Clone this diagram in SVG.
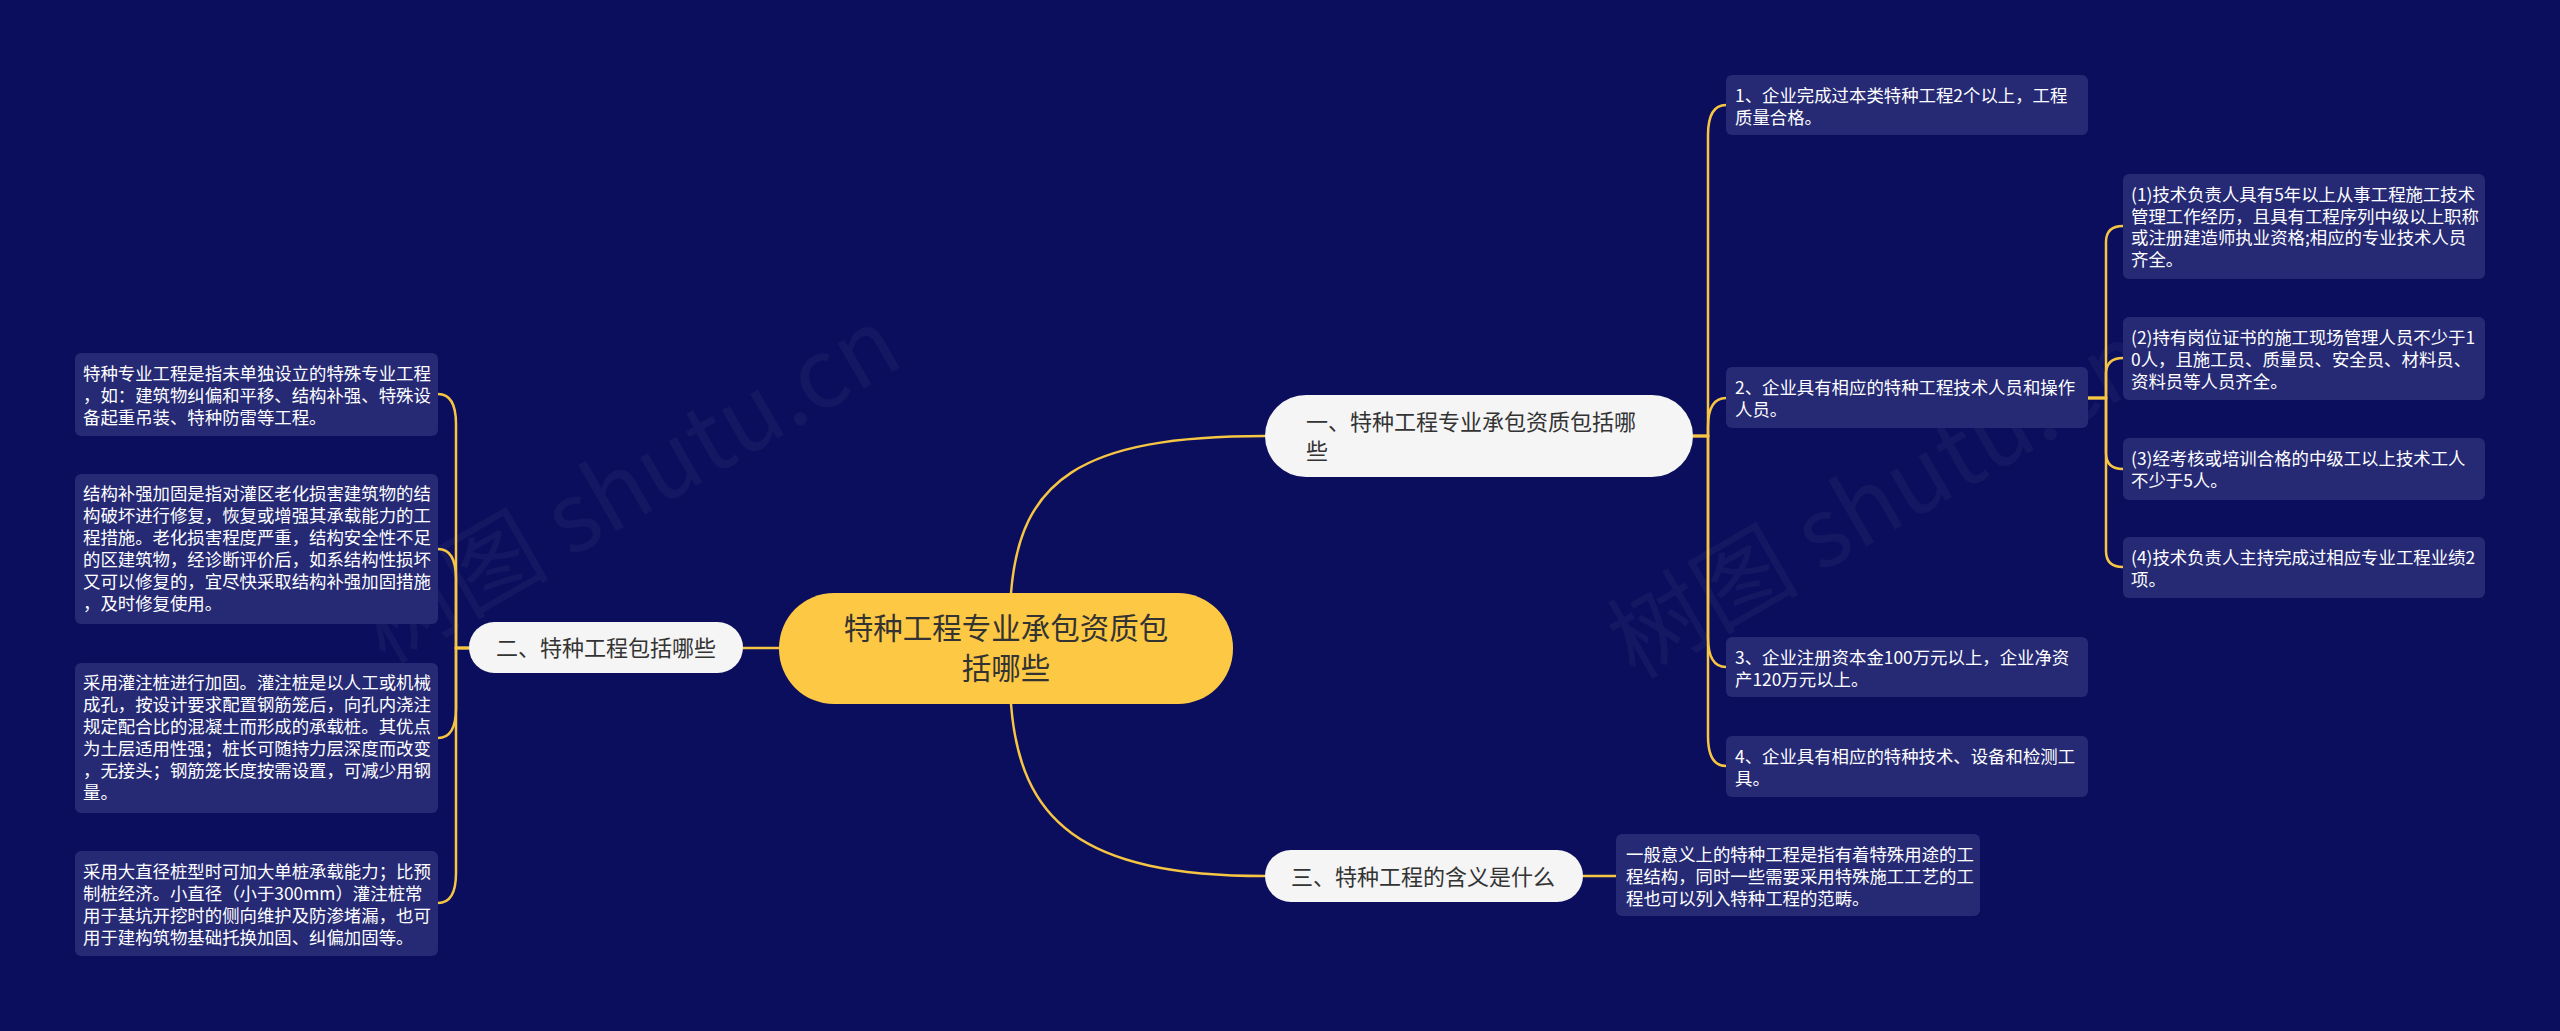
<svg xmlns="http://www.w3.org/2000/svg" width="2560" height="1031" viewBox="0 0 2560 1031">
<style>
.bg{fill:#0b0e5c}
.box{fill:#262a75}
.bt{font-family:"Noto Sans CJK SC","Noto Sans",sans-serif;font-size:17.4px;fill:#ffffff}
.sub{fill:#f5f5f5}
.st{font-family:"Noto Sans CJK SC","Noto Sans",sans-serif;font-size:22px;fill:#333333}
.ct{font-family:"Noto Sans CJK SC","Noto Sans",sans-serif;font-size:29.5px;fill:#333333}
.ln{fill:none;stroke:#f6c544;stroke-width:2.5;stroke-linecap:round}
.wm{font-family:"Noto Sans CJK SC","Noto Sans",sans-serif;font-size:96px;fill:#ffffff;fill-opacity:0.04}
</style>
<rect class="bg" x="0" y="0" width="2560" height="1031"/>
<g id="watermarks">
<text class="wm" x="385" y="665" transform="rotate(-30 385 665)">树图 shutu.cn</text>
<text class="wm" x="1635" y="680" transform="rotate(-30 1635 680)">树图 shutu.cn</text>
</g>
<g id="connectors">
<path class="ln" d="M779,648 H743"/>
<path class="ln" d="M1011,593 C1020,480 1080,436 1265,436"/>
<path class="ln" d="M1011,704 C1020,820 1080,876 1265,876"/>
<path class="ln" d="M1582,876 H1616"/>
<path class="ln" d="M1693,436 H1708 V135 Q1708,105 1726,105"/>
<path class="ln" d="M1693,436 H1708 V427 Q1708,398 1726,398"/>
<path class="ln" d="M1693,436 H1708 V637 Q1708,667 1726,667"/>
<path class="ln" d="M1693,436 H1708 V736 Q1708,766 1726,766"/>
<path class="ln" d="M2088,398 H2106 V242 Q2106,226 2123,226"/>
<path class="ln" d="M2088,398 H2106 V374 Q2106,358 2123,358"/>
<path class="ln" d="M2088,398 H2106 V453 Q2106,469 2123,469"/>
<path class="ln" d="M2088,398 H2106 V551 Q2106,567 2123,567"/>
<path class="ln" d="M469,648 H456 V424 Q456,394 438,394"/>
<path class="ln" d="M469,648 H456 V579 Q456,549 438,549"/>
<path class="ln" d="M469,648 H456 V708 Q456,738 438,738"/>
<path class="ln" d="M469,648 H456 V873 Q456,903 438,903"/>
</g>
<g id="root">
<rect x="779" y="593" width="454" height="111" rx="55" fill="#fdc843"/>
<text class="ct" text-anchor="middle"><tspan x="1006" y="639">特种工程专业承包资质包</tspan><tspan x="1006" y="679">括哪些</tspan></text>
</g>
<g id="n1">
<rect class="sub" x="1265" y="395" width="428" height="82" rx="41"/>
<text class="st"><tspan x="1306" y="430">一、特种工程专业承包资质包括哪</tspan><tspan x="1306" y="459">些</tspan></text>
</g>
<g id="n2">
<rect class="sub" x="469" y="622" width="274" height="51" rx="25.5"/>
<text class="st" x="606" y="656" text-anchor="middle">二、特种工程包括哪些</text>
</g>
<g id="n3">
<rect class="sub" x="1265" y="850" width="318" height="52" rx="26"/>
<text class="st" x="1291" y="885">三、特种工程的含义是什么</text>
</g>
<g id="n1-1">
<rect class="box" x="1726" y="75" width="362" height="60" rx="6"/>
<text class="bt"><tspan x="1735" y="102">1、企业完成过本类特种工程2个以上，工程</tspan><tspan x="1735" y="124">质量合格。</tspan></text>
</g>
<g id="n1-2">
<rect class="box" x="1726" y="367" width="362" height="61" rx="6"/>
<text class="bt"><tspan x="1735" y="394">2、企业具有相应的特种工程技术人员和操作</tspan><tspan x="1735" y="416">人员。</tspan></text>
</g>
<g id="n1-3">
<rect class="box" x="1726" y="637" width="362" height="60" rx="6"/>
<text class="bt"><tspan x="1735" y="664">3、企业注册资本金100万元以上，企业净资</tspan><tspan x="1735" y="686">产120万元以上。</tspan></text>
</g>
<g id="n1-4">
<rect class="box" x="1726" y="736" width="362" height="61" rx="6"/>
<text class="bt"><tspan x="1735" y="763">4、企业具有相应的特种技术、设备和检测工</tspan><tspan x="1735" y="785">具。</tspan></text>
</g>
<g id="n1-2-1">
<rect class="box" x="2123" y="174" width="362" height="105" rx="6"/>
<text class="bt"><tspan x="2131" y="201">(1)技术负责人具有5年以上从事工程施工技术</tspan><tspan x="2131" y="223">管理工作经历，且具有工程序列中级以上职称</tspan><tspan x="2131" y="244">或注册建造师执业资格;相应的专业技术人员</tspan><tspan x="2131" y="266">齐全。</tspan></text>
</g>
<g id="n1-2-2">
<rect class="box" x="2123" y="317" width="362" height="83" rx="6"/>
<text class="bt"><tspan x="2131" y="344">(2)持有岗位证书的施工现场管理人员不少于1</tspan><tspan x="2131" y="366">0人，且施工员、质量员、安全员、材料员、</tspan><tspan x="2131" y="388">资料员等人员齐全。</tspan></text>
</g>
<g id="n1-2-3">
<rect class="box" x="2123" y="438" width="362" height="62" rx="6"/>
<text class="bt"><tspan x="2131" y="465">(3)经考核或培训合格的中级工以上技术工人</tspan><tspan x="2131" y="487">不少于5人。</tspan></text>
</g>
<g id="n1-2-4">
<rect class="box" x="2123" y="537" width="362" height="61" rx="6"/>
<text class="bt"><tspan x="2131" y="564">(4)技术负责人主持完成过相应专业工程业绩2</tspan><tspan x="2131" y="586">项。</tspan></text>
</g>
<g id="n2-1">
<rect class="box" x="75" y="353" width="363" height="83" rx="6"/>
<text class="bt"><tspan x="83" y="380">特种专业工程是指未单独设立的特殊专业工程</tspan><tspan x="83" y="402">，如：建筑物纠偏和平移、结构补强、特殊设</tspan><tspan x="83" y="424">备起重吊装、特种防雷等工程。</tspan></text>
</g>
<g id="n2-2">
<rect class="box" x="75" y="474" width="363" height="150" rx="6"/>
<text class="bt"><tspan x="83" y="500">结构补强加固是指对灌区老化损害建筑物的结</tspan><tspan x="83" y="522">构破坏进行修复，恢复或增强其承载能力的工</tspan><tspan x="83" y="544">程措施。老化损害程度严重，结构安全性不足</tspan><tspan x="83" y="566">的区建筑物，经诊断评价后，如系结构性损坏</tspan><tspan x="83" y="588">又可以修复的，宜尽快采取结构补强加固措施</tspan><tspan x="83" y="610">，及时修复使用。</tspan></text>
</g>
<g id="n2-3">
<rect class="box" x="75" y="663" width="363" height="150" rx="6"/>
<text class="bt"><tspan x="83" y="689">采用灌注桩进行加固。灌注桩是以人工或机械</tspan><tspan x="83" y="711">成孔，按设计要求配置钢筋笼后，向孔内浇注</tspan><tspan x="83" y="733">规定配合比的混凝土而形成的承载桩。其优点</tspan><tspan x="83" y="755">为土层适用性强；桩长可随持力层深度而改变</tspan><tspan x="83" y="777">，无接头；钢筋笼长度按需设置，可减少用钢</tspan><tspan x="83" y="799">量。</tspan></text>
</g>
<g id="n2-4">
<rect class="box" x="75" y="851" width="363" height="105" rx="6"/>
<text class="bt"><tspan x="83" y="878">采用大直径桩型时可加大单桩承载能力；比预</tspan><tspan x="83" y="900">制桩经济。小直径（小于300mm）灌注桩常</tspan><tspan x="83" y="922">用于基坑开挖时的侧向维护及防渗堵漏，也可</tspan><tspan x="83" y="944">用于建构筑物基础托换加固、纠偏加固等。</tspan></text>
</g>
<g id="n3-1">
<rect class="box" x="1616" y="834" width="364" height="82" rx="6"/>
<text class="bt"><tspan x="1626" y="861">一般意义上的特种工程是指有着特殊用途的工</tspan><tspan x="1626" y="883">程结构，同时一些需要采用特殊施工工艺的工</tspan><tspan x="1626" y="905">程也可以列入特种工程的范畴。</tspan></text>
</g>
</svg>
